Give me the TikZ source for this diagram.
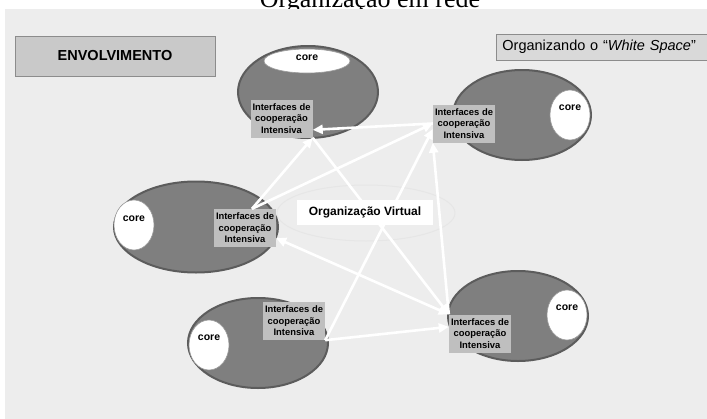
\documentclass[tikz,border=0pt]{standalone}
\usepackage{fontspec}
\setmainfont{Liberation Sans}
\newfontfamily\titlefont{Liberation Serif}
\usetikzlibrary{shapes.geometric,arrows.meta}

\definecolor{panel}{HTML}{EDEDED}
\definecolor{orgfill}{HTML}{7F7F7F}
\definecolor{orgrim}{HTML}{5C5C5C}
\definecolor{ifill}{HTML}{BFBFBF}
\definecolor{envfill}{HTML}{C9C9C9}
\definecolor{wsfill}{HTML}{D9D9D9}
\definecolor{boxrim}{HTML}{8C8C8C}
\definecolor{corerim}{HTML}{9A9A9A}
\definecolor{halo}{HTML}{E6E6E6}

\tikzset{
  org/.style={ellipse, fill=orgfill, draw=orgrim, line width=2pt, inner sep=0pt},
  corearea/.style={ellipse, fill=white, draw=corerim, line width=0.6pt, inner sep=0pt},
  corelabel/.style={font=\bfseries\fontsize{10.5}{12}\selectfont, inner sep=0pt},
  ibox/.style={fill=ifill, minimum width=62pt, minimum height=38pt, inner sep=0pt,
    align=center, font=\bfseries\fontsize{9.4}{11.6}\selectfont},
  tip/.tip={Triangle[length=10pt,width=9pt]},
  link/.style={draw=white, line width=2.6pt, -tip},
  biglink/.style={draw=white, line width=2.6pt, tip-tip},
}

\begin{document}
\begin{tikzpicture}[x=1pt,y=-1pt]
\useasboundingbox (0,0) rectangle (707,418);
\clip (0,0) rectangle (707,418);

% heading, partly above the page
\node[font=\titlefont\fontsize{26}{28}\selectfont, anchor=base, inner sep=0pt]
  (title) at (370,7) {Organização em rede};

% slide panel
\fill[panel] (5,9) rectangle (712,420);

% header boxes
\node[fill=envfill, draw=boxrim, line width=0.8pt, minimum width=200pt, minimum height=40pt,
  inner sep=0pt, font=\bfseries\fontsize{14.5}{16}\selectfont] (env) at (115,56) {ENVOLVIMENTO};
\node[fill=wsfill, draw=boxrim, line width=0.8pt, anchor=west, text width=206pt, inner xsep=6pt,
  minimum height=26pt, inner ysep=0pt, align=left, font=\fontsize{14.5}{16}\selectfont]
  (ws) at (496,47) {Organizando o “\textit{White Space}”};

% faint ring around the virtual organisation
\node[ellipse, draw=halo, line width=1pt, minimum width=178pt, minimum height=56pt] (ring) at (366,213) {};

% organisations
\node[org, minimum width=140pt, minimum height=92pt] (eA) at (308,92) {};
\node[org, minimum width=138pt, minimum height=90pt] (eB) at (522,115) {};
\node[org, minimum width=164pt, minimum height=91pt] (eC) at (196,227) {};
\node[org, minimum width=140pt, minimum height=90pt] (eD) at (258,343) {};
\node[org, minimum width=140pt, minimum height=90pt] (eE) at (518,316) {};

% cores
\node[corearea, minimum width=86pt, minimum height=24pt] (cA) at (307,61) {};
\node[corearea, minimum width=40pt, minimum height=50pt] (cB) at (570,115) {};
\node[corearea, minimum width=40pt, minimum height=50pt] (cC) at (134,225) {};
\node[corearea, minimum width=40pt, minimum height=50pt] (cD) at (209,345) {};
\node[corearea, minimum width=40pt, minimum height=50pt] (cE) at (567,315) {};
\node[corelabel] (tA) at (307,58) {core};
\node[corelabel] (tB) at (570,108) {core};
\node[corelabel] (tC) at (134,219) {core};
\node[corelabel] (tD) at (209,338) {core};
\node[corelabel] (tE) at (567,308) {core};

% cooperation interfaces
\node[ibox] (iA) at (281.5,118.5) {Interfaces de\\cooperação\\Intensiva};
\node[ibox] (iB) at (464,123.5) {Interfaces de\\cooperação\\Intensiva};
\node[ibox] (iC) at (245,228) {Interfaces de\\cooperação\\Intensiva};
\node[ibox] (iD) at (294,321) {Interfaces de\\cooperação\\Intensiva};
\node[ibox] (iE) at (480,333.5) {Interfaces de\\cooperação\\Intensiva};

% links between interfaces
\draw[link] (iC.70) -- (iA.south east);
\draw[link] (iC.70) -- (iB.west);
\draw[link] (iB.west) -- (iA.-20);
\draw[link] (iA.south east) -- (iE.north west);
\draw[link] (iD.south east) -- (iB.190);
\draw[link] (iE.north west) -- (iB.south west);
\draw[biglink] (iC.-18) -- (iE.north west);
\draw[link] (iD.south east) -- (iE.168);

% virtual organisation label
\node[fill=white, minimum width=136pt, minimum height=25pt, inner sep=0pt,
  font=\bfseries\fontsize{12}{14}\selectfont] (vo) at (365,212.5) {\raisebox{3pt}{Organização Virtual}};
\end{tikzpicture}
\end{document}
